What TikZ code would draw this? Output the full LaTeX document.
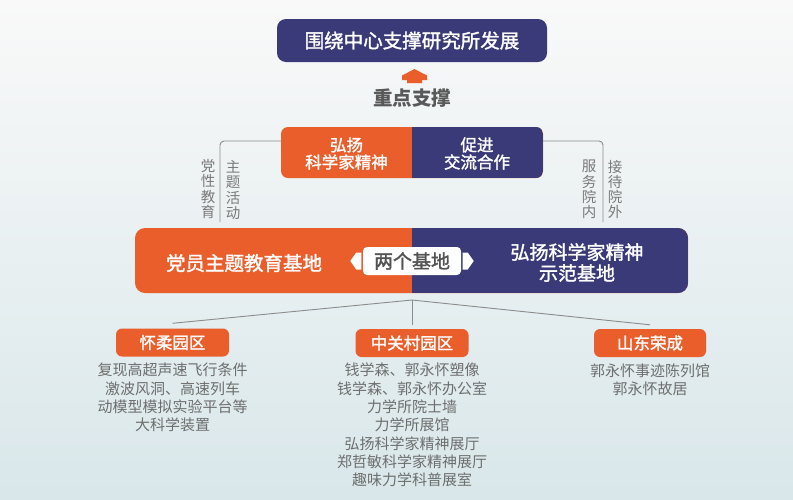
\documentclass[tikz,border=0pt]{standalone}
\usepackage{fontspec}
\setmainfont{Noto Sans CJK SC}
\newfontfamily\medfont{Noto Sans CJK SC}[FakeBold=1.6]
\usepackage{tikz}
\usetikzlibrary{positioning}

\definecolor{orangeC}{HTML}{EA5E2C}
\definecolor{navyC}{HTML}{3B3A78}
\definecolor{lineC}{HTML}{8C8C8C}
\definecolor{textC}{HTML}{6E6E6E}
\definecolor{labelC}{HTML}{7A7A7A}
\definecolor{bgtop}{HTML}{F9F9F9}
\definecolor{bgmid}{HTML}{F1F4F4}
\definecolor{bgbot}{HTML}{D9E7EA}

\tikzset{
	conn/.style={draw=lineC, line width=0.9pt},
	splitbox/.style={fill=orangeC, inner sep=0pt,
		path picture={\fill[navyC, sharp corners] (path picture bounding box.north) rectangle (path picture bounding box.south east);}},
	boxtext/.style={text=white, align=center, inner sep=0pt},
	vlabel/.style={text=labelC, align=center, inner sep=0pt, font=\fontsize{14.5}{15.3}\selectfont},
	campus/.style={fill=orangeC, rounded corners=6pt, text=white, inner sep=0pt,
		minimum width=113pt, minimum height=28pt, font=\medfont\fontsize{16.5}{20}\selectfont},
	campuslist/.style={text=textC, align=center, inner sep=0pt, font=\fontsize{15}{18.3}\selectfont}
}

\begin{document}
\begin{tikzpicture}[x=1pt,y=-1pt]
	\useasboundingbox (0,0) rectangle (793,499);
	\shade[top color=bgtop, middle color=bgmid, bottom color=bgbot] (0,0) rectangle (793,499);
	
	\node[fill=navyC, rounded corners=9pt, minimum width=270pt, minimum height=43pt,
		boxtext, font=\medfont\fontsize{19.5}{23}\selectfont] (goal) at (412,40.5) {围绕中心支撑研究所发展};
	
	\fill[orangeC] (414.5,69) -- (427,75.5) -- (427,80) -- (422,80) -- (422,83)
		-- (407,83) -- (407,80) -- (402,80) -- (402,75.5) -- cycle;
	\node[text=black!65, font=\bfseries\fontsize{19.5}{23}\selectfont] (focus) at (412,98) {重点支撑};
	
	\node[splitbox, rounded corners=7pt, minimum width=262pt, minimum height=51pt] (mid) at (412,152.5) {};
	\node[boxtext, font=\medfont\fontsize{16.5}{17.2}\selectfont] (spirit) at (346.5,153.5) {弘扬\\科学家精神};
	\node[boxtext, font=\medfont\fontsize{16.5}{17.2}\selectfont] (coop) at (477,153.5) {促进\\交流合作};
	
	\coordinate (lcorner) at (220,141);
	\coordinate (lfoot) at (220,222);
	\draw[conn, rounded corners=4pt] (mid.west |- lcorner) -- (lcorner) -- (lfoot);
	\coordinate (rcorner) at (603,141);
	\coordinate (rfoot) at (603,222);
	\draw[conn, rounded corners=4pt] (mid.east |- rcorner) -- (rcorner) -- (rfoot);
	
	\node[vlabel] (party) at (208,189) {党\\性\\教\\育};
	\node[vlabel] (theme) at (233,190) {主\\题\\活\\动};
	\node[vlabel] (serve) at (589,189.5) {服\\务\\院\\内};
	\node[vlabel] (host) at (615,189.5) {接\\待\\院\\外};
	
	\node[splitbox, rounded corners=10pt, minimum width=553pt, minimum height=65pt] (bases) at (411.5,260.5) {};
	\node[boxtext, font=\medfont\fontsize{19.5}{21}\selectfont] (partybase) at (244,263) {党员主题教育基地};
	\node[boxtext, font=\medfont\fontsize{19}{21}\selectfont] (spiritbase) at (577,262.5) {弘扬科学家精神\\示范基地};
	
	\node[fill=white, rounded corners=4pt, minimum width=98pt, minimum height=28pt, inner sep=0pt,
		text=black!68, font=\medfont\fontsize{19}{21}\selectfont] (two) at (412,261) {两个基地};
	\fill[white] ([xshift=-1.5pt]two.west) ++(0,-8.5) -- ++(-5,0) -- ++(-6,8.5) -- ++(6,8.5) -- ++(5,0) -- cycle;
	\fill[white] ([xshift=1.5pt]two.east) ++(0,-8.5) -- ++(5,0) -- ++(6,8.5) -- ++(-6,8.5) -- ++(-5,0) -- cycle;
	
	\coordinate (fork) at (412,300);
	\node[campus] (huairou) at (172.5,342.5) {怀柔园区};
	\node[campus] (zgc) at (412,343) {中关村园区};
	\node[campus, minimum width=112pt] (rongcheng) at (650,343) {山东荣成};
	\draw[conn] (fork) -- ([yshift=5pt]huairou.north);
	\draw[conn] (fork) -- ([yshift=4pt]zgc.north);
	\draw[conn] (fork) -- ([yshift=4pt]rongcheng.north);
	
	\node[campuslist] (huairoulist) at (172.5,397.5) {复现高超声速飞行条件\\激波风洞、高速列车\\动模型模拟实验平台等\\大科学装置};
	\node[campuslist] (zgclist) at (412,425) {钱学森、郭永怀塑像\\钱学森、郭永怀办公室\\力学所院士墙\\力学所展馆\\弘扬科学家精神展厅\\郑哲敏科学家精神展厅\\趣味力学科普展室};
	\node[campuslist] (rclist) at (650,379.5) {郭永怀事迹陈列馆\\郭永怀故居};
\end{tikzpicture}
\end{document}
